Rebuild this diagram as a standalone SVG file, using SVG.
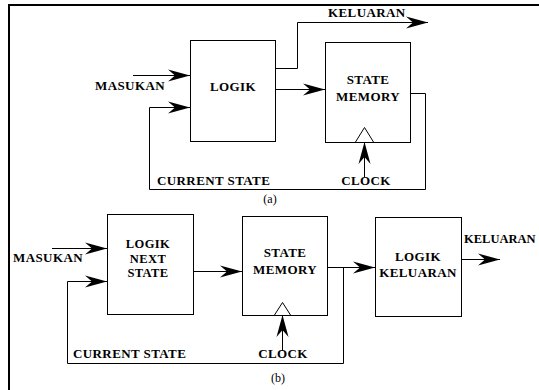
<svg xmlns="http://www.w3.org/2000/svg" width="539" height="390" viewBox="0 0 539 390">
<defs>
<marker id="ah" markerWidth="24" markerHeight="14" refX="0" refY="0" viewBox="-23 -7 24 14" orient="auto" markerUnits="userSpaceOnUse">
<path d="M0,0 L-22,-6 L-15,0 L-22,6 Z" fill="#000"/>
</marker>
</defs>
<style>
.box{fill:#fff;stroke:#000;stroke-width:1}
.ln{fill:none;stroke:#000;stroke-width:1}
.ar{fill:none;stroke:#000;stroke-width:1;marker-end:url(#ah)}
.t{font-family:"Liberation Serif","Times New Roman",serif;font-weight:bold;font-size:13px;letter-spacing:0.4px;fill:#000}
.c{text-anchor:middle}
.cap{font-family:"Liberation Serif","Times New Roman",serif;font-size:12px;fill:#000;text-anchor:middle}
</style>
<rect width="539" height="390" fill="#fff"/>
<g id="frame"><path d="M9,390 V5 H539" fill="none" stroke="#000" stroke-width="2"/></g>

<g id="connectors">
<path class="ar" d="M133,75.5 H190"/>
<path class="ar" d="M149.5,189.5 V107.5 H190"/>
<path class="ln" d="M149.5,189.5 H425.5 V93.5 H410"/>
<path class="ar" d="M275,68.5 H297.5 V22.5 H428"/>
<path class="ar" d="M275,89.5 H325"/>
<path class="ar" d="M364.5,177 V142"/>
<path class="ar" d="M52,248.5 H107"/>
<path class="ar" d="M67.5,363.5 V281.5 H107"/>
<path class="ln" d="M67.5,363.5 H343.5 V267.5"/>
<path class="ar" d="M193,271.5 H242"/>
<path class="ar" d="M327,267.5 H375"/>
<path class="ar" d="M461,259.5 H500"/>
<path class="ar" d="M282.5,351 V315"/>
</g>

<g id="logik-a">
<rect class="box" x="190.5" y="40.5" width="85" height="101"/>
<text class="t c" x="233" y="91">LOGIK</text>
</g>
<g id="state-memory-a">
<rect class="box" x="325.5" y="42.5" width="85" height="100"/>
<text class="t c" x="368" y="84">STATE</text>
<text class="t c" x="368" y="101">MEMORY</text>
<path class="ln" d="M355.5,142 L364.5,127.5 L373.5,142"/>
</g>
<g id="labels-a">
<text class="t" x="95" y="90">MASUKAN</text>
<text class="t" x="328" y="17">KELUARAN</text>
<text class="t" x="157" y="185">CURRENT STATE</text>
<text class="t c" x="366" y="185">CLOCK</text>
<text class="cap" x="270" y="203">(a)</text>
</g>

<g id="logik-next-state">
<rect class="box" x="107.5" y="214.5" width="86" height="100"/>
<text class="t c" x="148" y="248" style="font-size:12.5px">LOGIK</text>
<text class="t c" x="148" y="262.5" style="font-size:12.5px">NEXT</text>
<text class="t c" x="148" y="277" style="font-size:12.5px">STATE</text>
</g>
<g id="state-memory-b">
<rect class="box" x="242.5" y="216.5" width="85" height="99"/>
<text class="t c" x="285" y="257">STATE</text>
<text class="t c" x="285" y="274">MEMORY</text>
<path class="ln" d="M274.5,315 L282.5,302.5 L290.5,315"/>
</g>
<g id="logik-keluaran">
<rect class="box" x="375.5" y="217.5" width="86" height="99"/>
<text class="t c" x="418" y="261">LOGIK</text>
<text class="t c" x="418" y="277">KELUARAN</text>
</g>
<g id="labels-b">
<text class="t" x="13" y="262">MASUKAN</text>
<text class="t" x="464" y="243" style="letter-spacing:0;font-size:12.5px">KELUARAN</text>
<text class="t" x="73" y="358">CURRENT STATE</text>
<text class="t c" x="283" y="358">CLOCK</text>
<text class="cap" x="278" y="382">(b)</text>
</g>
</svg>
